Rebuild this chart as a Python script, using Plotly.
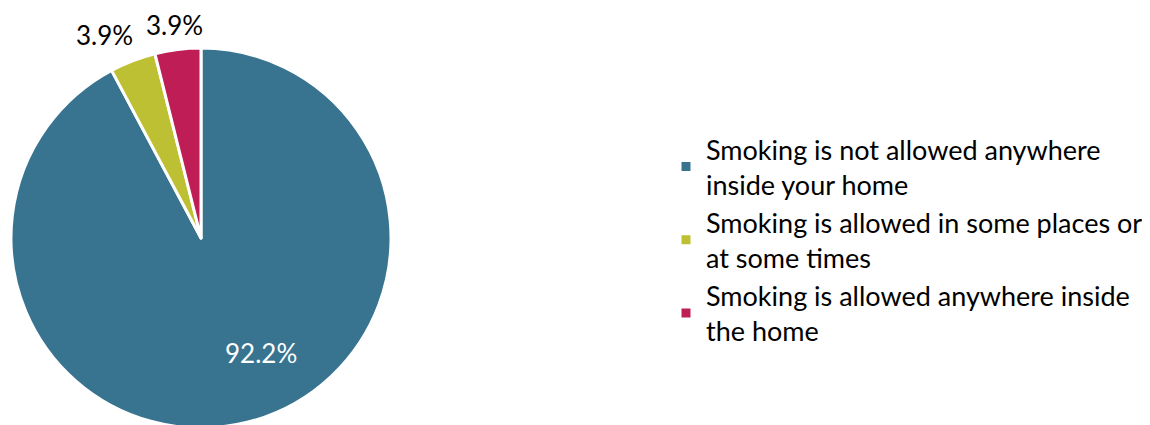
import math
import plotly.graph_objects as go

labels = [
    "Smoking is not allowed anywhere<br>inside your home",
    "Smoking is allowed in some places or<br>at some times",
    "Smoking is allowed anywhere inside<br>the home",
]
values = [92.2, 3.9, 3.9]
text_labels = ["92.2%", "3.9%", "3.9%"]
colors = ["#38738F", "#BDC032", "#BE1E55"]
label_colors = ["white", "black", "black"]

W, H = 1150, 425
# page body has an 8px margin, so the figure is drawn 8px right/down
cx, cy, r = 193, 230, 190

fig = go.Figure(go.Pie(
    labels=labels,
    values=values,
    textinfo="none",
    marker=dict(colors=colors, line=dict(color="white", width=3)),
    sort=False,
    direction="clockwise",
    rotation=0,
    showlegend=True,
    hoverinfo="label+percent",
    domain=dict(x=[(cx - r) / W, (cx + r) / W],
                y=[1 - (cy + r) / H, 1 - (cy - r) / H]),
))

# label placement along each slice, derived from the cumulative angles of the data
total = sum(values)
radial = [0.683, 1.184, 1.129]
angle_shift = [-13.6, -4.4, 0.0]  # degrees
start = 0.0
for v, t, c, rf, sh in zip(values, text_labels, label_colors, radial, angle_shift):
    mid = (start + v / 2) / total * 360.0
    start += v
    a = math.radians(mid + sh)  # clockwise from top
    px = cx + math.sin(a) * r * rf
    py = cy - math.cos(a) * r * rf
    fig.add_annotation(
        x=px / W, y=1 - py / H, xref="paper", yref="paper",
        text=t, showarrow=False, xanchor="center", yanchor="middle",
        font=dict(size=26, color=c),
    )

fig.update_layout(
    width=W, height=H,
    margin=dict(l=0, r=0, t=0, b=0),
    paper_bgcolor="white",
    plot_bgcolor="white",
    font=dict(family="Lato, sans-serif", size=27, color="#000000"),
    legend=dict(
        x=658 / W, y=1 - 232 / H, xanchor="left", yanchor="middle",
        font=dict(size=27, color="#000000"),
        itemclick=False,
    ),
)

fig.write_html("out.html")
